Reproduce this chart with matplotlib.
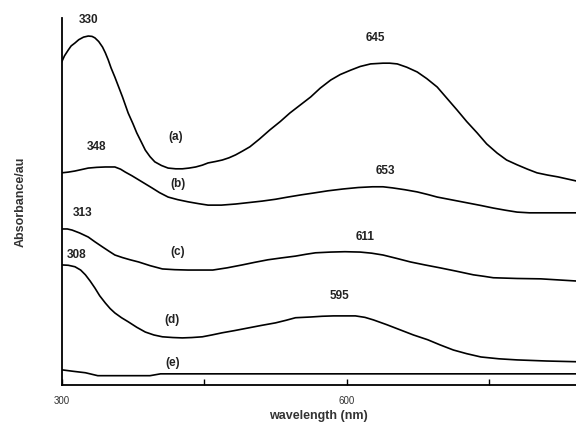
#!/usr/bin/env python3
"""UV-Vis absorption spectra (a)-(e), recreated from the reference figure."""

import matplotlib
matplotlib.use('Agg')
import matplotlib.pyplot as plt

plt.rcParams.update({
    'font.family': ['Liberation Sans', 'DejaVu Sans'],
    'font.size': 9,
})

# Spectra (wavelength nm, absorbance a.u.)
wl_a = [300, 303, 307, 310, 314, 318, 323, 328, 332, 335, 339, 343, 346, 349,
        352, 356, 360, 364, 367, 370, 375, 379, 384, 388, 393, 398, 405, 412,
        420, 427, 434, 441, 448, 454, 462, 469, 476, 483, 490, 498, 508, 519,
        530, 540, 551, 562, 572, 583, 593, 604, 614, 625, 638, 645, 653, 663,
        674, 684, 695, 705, 716, 726, 737, 747, 758, 768, 779, 790, 800, 811,
        822, 841]
abs_a = [0.880, 0.897, 0.913, 0.924, 0.932, 0.941, 0.948, 0.951, 0.950, 0.946,
         0.936, 0.921, 0.905, 0.886, 0.864, 0.839, 0.812, 0.785, 0.763, 0.741,
         0.712, 0.687, 0.661, 0.640, 0.622, 0.608, 0.598, 0.591, 0.589, 0.589,
         0.591, 0.594, 0.599, 0.605, 0.609, 0.613, 0.619, 0.627, 0.637, 0.649,
         0.670, 0.695, 0.718, 0.741, 0.763, 0.785, 0.809, 0.831, 0.846, 0.858,
         0.868, 0.875, 0.877, 0.877, 0.875, 0.866, 0.853, 0.835, 0.812, 0.782,
         0.749, 0.718, 0.687, 0.657, 0.632, 0.613, 0.600, 0.588, 0.578, 0.572,
         0.567, 0.556]

wl_b = [300, 307, 314, 321, 328, 337, 346, 356, 362, 367, 374, 381, 388, 395,
        403, 412, 422, 433, 444, 454, 468, 483, 497, 511, 525, 538, 552, 565,
        580, 596, 612, 627, 638, 648, 661, 674, 685, 695, 711, 727, 741, 754,
        767, 779, 792, 804, 842]
abs_b = [0.578, 0.580, 0.583, 0.587, 0.591, 0.593, 0.594, 0.594, 0.588, 0.580,
         0.570, 0.559, 0.548, 0.537, 0.524, 0.512, 0.505, 0.499, 0.494, 0.490,
         0.490, 0.493, 0.497, 0.501, 0.506, 0.512, 0.518, 0.523, 0.529, 0.534,
         0.538, 0.540, 0.540, 0.537, 0.532, 0.526, 0.519, 0.512, 0.504, 0.496,
         0.489, 0.482, 0.476, 0.471, 0.469, 0.469, 0.469]

wl_c = [300, 306, 311, 319, 328, 335, 343, 350, 356, 364, 372, 381, 393, 406,
        419, 433, 446, 459, 474, 490, 503, 517, 531, 546, 557, 567, 575, 583,
        598, 614, 626, 638, 652, 667, 682, 698, 715, 733, 744, 754, 779, 804,
        842]
abs_c = [0.425, 0.425, 0.422, 0.414, 0.403, 0.390, 0.376, 0.364, 0.354, 0.347,
         0.341, 0.335, 0.325, 0.316, 0.314, 0.313, 0.313, 0.313, 0.319, 0.327,
         0.334, 0.341, 0.346, 0.351, 0.356, 0.360, 0.361, 0.362, 0.363, 0.362,
         0.359, 0.354, 0.345, 0.335, 0.327, 0.319, 0.310, 0.300, 0.296, 0.292,
         0.290, 0.289, 0.283]

wl_d = [300, 307, 314, 320, 325, 330, 335, 340, 346, 351, 356, 363, 370, 379,
        388, 397, 406, 417, 427, 437, 448, 458, 469, 482, 496, 510, 525, 536,
        546, 554, 562, 574, 586, 598, 609, 619, 628, 642, 656, 670, 685, 698,
        712, 726, 741, 760, 779, 810, 842]
abs_d = [0.327, 0.326, 0.322, 0.313, 0.300, 0.283, 0.264, 0.243, 0.223, 0.208,
         0.196, 0.183, 0.172, 0.157, 0.144, 0.136, 0.131, 0.129, 0.128, 0.129,
         0.131, 0.136, 0.142, 0.148, 0.155, 0.162, 0.169, 0.176, 0.183, 0.184,
         0.185, 0.187, 0.188, 0.188, 0.188, 0.184, 0.177, 0.164, 0.150, 0.136,
         0.123, 0.109, 0.095, 0.085, 0.076, 0.071, 0.068, 0.065, 0.063]

wl_e = [300, 312, 325, 338, 360, 393, 404, 500, 650, 842]
abs_e = [0.041, 0.037, 0.033, 0.025, 0.025, 0.025, 0.030, 0.030, 0.030, 0.030]

series = [(wl_a, abs_a), (wl_b, abs_b), (wl_c, abs_c), (wl_d, abs_d), (wl_e, abs_e)]

# Curve tags and peak labels
tags = ['(a)', '(b)', '(c)', '(d)', '(e)']
tag_pos = [(420, 0.676), (422, 0.548), (422, 0.362), (416, 0.177), (417, 0.060)]
peaks = ['330', '645', '348', '653', '313', '611', '308', '595']
peak_pos = [(328, 0.995), (630, 0.946), (337, 0.649), (640, 0.583),
            (322, 0.469), (619, 0.403), (316, 0.354), (592, 0.243)]

fig = plt.figure(figsize=(5.76, 4.30), dpi=100)
ax = fig.add_axes([0.107, 0.105, 0.893, 0.853])

for wl, ab in series:
    ax.plot(wl, ab, color='black', linewidth=1.2,
            solid_joinstyle='round', solid_capstyle='round')

for t, (x, y) in zip(tags, tag_pos):
    ax.text(x, y, t, ha='center', va='center', fontsize=8.5,
            fontweight='bold', color='#222222')
for p, (x, y) in zip(peaks, peak_pos):
    ax.text(x, y, p, ha='center', va='center', fontsize=8.5,
            fontweight='bold', color='#222222')

ax.set_xlim(300, 841)
ax.set_ylim(0, 1.0)
ax.set_xticks([300, 600])
ax.set_xticks([450, 750], minor=True)
ax.set_xticklabels(['300', '600'], fontsize=7, color='#333333')
ax.tick_params(axis='x', which='both', direction='in', length=4, width=1.0, pad=8)
ax.set_yticks([])

for s in ['top', 'right']:
    ax.spines[s].set_visible(False)
for s in ['left', 'bottom']:
    ax.spines[s].set_linewidth(1.3)

ax.set_xlabel('wavelength (nm)', fontsize=9, fontweight='bold',
              color='#333333', labelpad=3)
ax.set_ylabel('Absorbance/au', fontsize=9, fontweight='bold',
              color='#333333', labelpad=25)

fig.savefig('out.png', dpi=100)
plt.close(fig)
